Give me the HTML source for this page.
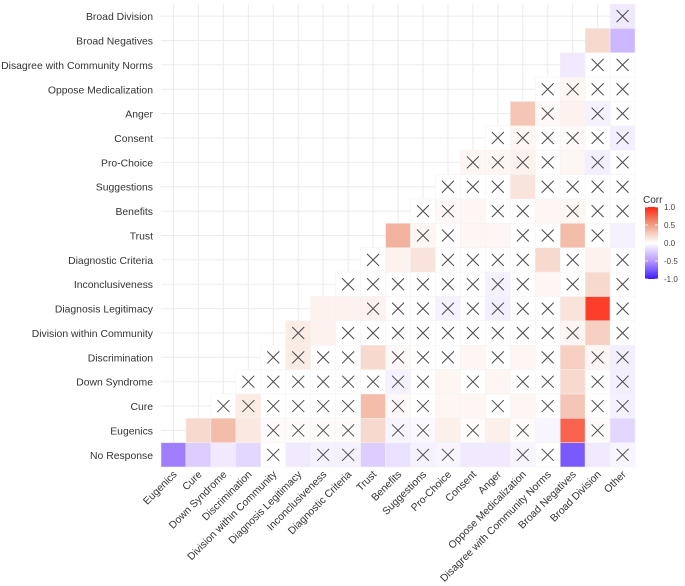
<!DOCTYPE html>
<html><head><meta charset="utf-8"><style>
html,body{margin:0;padding:0;background:#fff;width:685px;height:586px;overflow:hidden}
svg{display:block;font-family:"Liberation Sans",sans-serif}
</style></head><body>
<svg id="chart" width="685" height="586">
<g id="grid"></g>
<g id="cells"></g>
<g id="ylab"></g>
<g id="xlab"></g>
<g id="legend"></g>
</svg>
<script>
const rowNames = ["No Response","Eugenics","Cure","Down Syndrome","Discrimination","Division within Community","Diagnosis Legitimacy","Inconclusiveness","Diagnostic Criteria","Trust","Benefits","Suggestions","Pro-Choice","Consent","Anger","Oppose Medicalization","Disagree with Community Norms","Broad Negatives","Broad Division"];
const colNames = ["Eugenics","Cure","Down Syndrome","Discrimination","Division within Community","Diagnosis Legitimacy","Inconclusiveness","Diagnostic Criteria","Trust","Benefits","Suggestions","Pro-Choice","Consent","Anger","Oppose Medicalization","Disagree with Community Norms","Broad Negatives","Broad Division","Other"];
// row r covers columns r..18
const corrRows = [
 [-0.6,-0.25,-0.1,-0.2,0,-0.1,-0.07,-0.07,-0.25,-0.15,-0.07,-0.05,-0.1,-0.1,-0.05,0,-0.75,-0.1,-0.05],
 [0.2,0.35,0.12,0.02,0.02,0.02,0.02,0.2,-0.05,-0.03,0.08,0.02,0.08,0.02,-0.05,0.75,0.02,-0.2],
 [0,0.1,0,0,0,0,0.35,0.03,0,0.05,0.05,0,0.05,0,0.3,0,-0.07],
 [0,0,0,0,0,0,-0.07,0,0.05,0,0.05,0,0,0.2,0,-0.08],
 [0,0.1,0,0,0.2,0.03,0,0,0.05,0,0.05,0,0.25,0.05,-0.08],
 [0.1,0.07,0,0,0,0,0,0,0,0,0,0.05,0.25,0],
 [0.07,0.07,0.07,0,0,-0.07,0,-0.08,0,0,0.15,0.9,0],
 [0,0,0,0,0,0,-0.07,0,0.05,0,0.2,0],
 [0,0.07,0.15,0,0,0,0,0.2,0,0.07,0],
 [0.4,0.05,0,0.05,0.05,0,0,0.35,0,-0.07],
 [0,0.03,0.05,0,0,0.05,0.05,0,0],
 [0,0,0,0.15,0,0,0,0],
 [0.05,0.05,0.07,0,0.05,-0.08,0],
 [0,0.05,0,0.03,0,-0.08],
 [0.3,0.03,0.07,-0.07,0],
 [0,0.05,0,0],
 [-0.1,0,0],
 [0.2,-0.35],
 [-0.1]
];
const insigRows = ["0000101100110011001","000111101101010010","11111101100101011","1111111101011011","111101110101011","10111111111101","0011111111001","111111110101","10011110101","0110011010","110110111","11101111","1111011","111111","01011","1111","011","00","1"];
const legendTicks = [1.0,0.5,0.0,-0.5,-1.0];

const NS="http://www.w3.org/2000/svg";
const X0=161, CW=24.95, YB=467, CH=24.37;
const xc=c=>X0+(c+0.5)*CW;
const yc=r=>YB-(r+0.5)*CH;
function mk(tag,attrs,parent){const e=document.createElementNS(NS,tag);for(const k in attrs)e.setAttribute(k,attrs[k]);parent.appendChild(e);return e;}
function lerp(a,b,t){return a.map((v,i)=>Math.round(v+(b[i]-v)*t));}
const stops=[[-1,[60,28,255]],[-0.5,[184,152,255]],[0,[255,255,255]],[0.5,[238,160,132]],[1,[255,38,20]]];
function color(v){v=Math.max(-1,Math.min(1,v));for(let i=0;i<stops.length-1;i++){const[a,ca]=stops[i],[b,cb]=stops[i+1];if(v<=b){const c=lerp(ca,cb,(v-a)/(b-a));return`rgb(${c[0]},${c[1]},${c[2]})`;}}return"rgb(255,38,20)";}

const grid=document.getElementById('grid');
for(let c=0;c<19;c++){const l=mk('line',{x1:xc(c),x2:xc(c),y1:4,y2:YB,stroke:'#ebebeb','stroke-width':1},grid);

}
for(let r=0;r<19;r++){const l=mk('line',{x1:X0,x2:X0+19*CW,y1:yc(r),y2:yc(r),stroke:'#ebebeb','stroke-width':1},grid);

}

const cells=document.getElementById('cells');
corrRows.forEach((row,r)=>{row.forEach((v,i)=>{const c=r+i;
 const g=mk('g',{},cells);
 
 
 mk('rect',{x:X0+c*CW,y:YB-(r+1)*CH,width:CW,height:CH,fill:color(v),stroke:'#f2f2f2','stroke-width':0.5},g);
 if(insigRows[r][i]==='1'){const s=6,x=xc(c),y=yc(r);
  mk('path',{d:`M${x-s},${y-s}L${x+s},${y+s}M${x+s},${y-s}L${x-s},${y+s}`,stroke:'#4a4a4a','stroke-width':1,fill:'none'},g);}
});});

const yl=document.getElementById('ylab');
rowNames.forEach((n,r)=>{const t=mk('text',{x:153,y:yc(r)+4,'text-anchor':'end','font-size':10.4,fill:'#333'},yl);t.textContent=n;

});
const xl=document.getElementById('xlab');
colNames.forEach((n,c)=>{const x=xc(c)+4,y=475;const t=mk('text',{x:x,y:y,'text-anchor':'end','font-size':10.4,fill:'#333',transform:`rotate(-45 ${x} ${y})`},xl);t.textContent=n;

});

const lg=document.getElementById('legend');
const defs=mk('defs',{},lg);const gr=mk('linearGradient',{id:'lgrad',x1:0,y1:0,x2:0,y2:1},defs);
for(let i=0;i<=20;i++){const v=1-i/10;mk('stop',{offset:(i/20),'stop-color':color(v)},gr);}
const tt=mk('text',{x:643,y:203,'font-size':10,fill:'#333'},lg);tt.textContent='Corr';


const LT=207,LB=279;
const bar=mk('rect',{x:645,y:LT,width:13,height:LB-LT,fill:'url(#lgrad)'},lg);


legendTicks.forEach(v=>{const y=LT+(1-v)/2*(LB-LT);
 mk('line',{x1:645,x2:648,y1:y,y2:y,stroke:'#fff','stroke-width':0.8},lg);
 mk('line',{x1:655,x2:658,y1:y,y2:y,stroke:'#fff','stroke-width':0.8},lg);
 const t=mk('text',{x:664,y:y+3,'font-size':8,fill:'#444'},lg);t.textContent=v.toFixed(1);
 
 });
</script>
</body></html>
